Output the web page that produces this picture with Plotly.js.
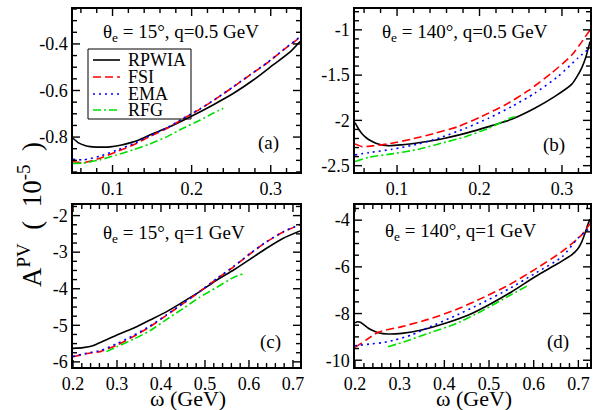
<!DOCTYPE html>
<html><head><meta charset="utf-8">
<script src="https://cdn.plot.ly/plotly-3.0.1.min.js"></script>
<style>html,body{margin:0;padding:0;background:#fff}#chart{width:593px;height:410px}</style>
</head><body><div id="chart"></div>
<script>
// ---------- Panel (a): theta_e = 15 deg, q = 0.5 GeV ----------
const a_rpwia_x = [0.05, 0.057, 0.065, 0.072, 0.085, 0.097, 0.11, 0.122, 0.135, 0.147, 0.173, 0.199, 0.227, 0.253, 0.278, 0.303, 0.325, 0.337];
const a_rpwia_y = [-0.805, -0.825, -0.836, -0.841, -0.843, -0.842, -0.835, -0.825, -0.81, -0.791, -0.755, -0.712, -0.662, -0.612, -0.555, -0.49, -0.433, -0.39];
const a_fsi_x = [0.05, 0.063, 0.084, 0.105, 0.126, 0.147, 0.169, 0.189, 0.211, 0.232, 0.253, 0.274, 0.295, 0.316, 0.337];
const a_fsi_y = [-0.906, -0.91, -0.891, -0.863, -0.834, -0.798, -0.762, -0.722, -0.679, -0.633, -0.584, -0.533, -0.483, -0.426, -0.372];
const a_ema_x = [0.05, 0.063, 0.084, 0.105, 0.126, 0.147, 0.169, 0.189, 0.211, 0.232, 0.253, 0.274, 0.295, 0.316, 0.337];
const a_ema_y = [-0.895, -0.898, -0.882, -0.857, -0.829, -0.795, -0.76, -0.72, -0.678, -0.632, -0.583, -0.532, -0.482, -0.425, -0.37];
const a_rfg_x = [0.05, 0.063, 0.084, 0.105, 0.126, 0.147, 0.169, 0.189, 0.211, 0.227, 0.24];
const a_rfg_y = [-0.913, -0.912, -0.898, -0.877, -0.855, -0.83, -0.798, -0.762, -0.727, -0.698, -0.676];

// ---------- Panel (b): theta_e = 140 deg, q = 0.5 GeV ----------
const b_rpwia_x = [0.049, 0.053, 0.057, 0.061, 0.065, 0.071, 0.077, 0.089, 0.105, 0.13, 0.158, 0.186, 0.211, 0.239, 0.267, 0.291, 0.312, 0.318, 0.324, 0.329, 0.334];
const b_rpwia_y = [-2.025, -2.09, -2.142, -2.18, -2.208, -2.238, -2.26, -2.279, -2.271, -2.241, -2.197, -2.135, -2.069, -1.987, -1.866, -1.738, -1.6, -1.52, -1.42, -1.3, -1.13];
const b_fsi_x = [0.049, 0.058, 0.07, 0.089, 0.117, 0.146, 0.174, 0.202, 0.231, 0.259, 0.287, 0.312, 0.334];
const b_fsi_y = [-2.26, -2.29, -2.282, -2.26, -2.208, -2.142, -2.069, -1.959, -1.83, -1.672, -1.48, -1.278, -1.002];
const b_ema_x = [0.049, 0.066, 0.094, 0.126, 0.154, 0.183, 0.211, 0.239, 0.267, 0.295, 0.319, 0.332];
const b_ema_y = [-2.381, -2.356, -2.319, -2.26, -2.186, -2.087, -1.976, -1.848, -1.70, -1.517, -1.314, -1.215];
const b_rfg_x = [0.049, 0.066, 0.094, 0.126, 0.154, 0.183, 0.211, 0.237, 0.243];
const b_rfg_y = [-2.455, -2.407, -2.37, -2.319, -2.252, -2.18, -2.087, -1.976, -1.96];

// ---------- Panel (c): theta_e = 15 deg, q = 1 GeV ----------
const c_rpwia_x = [0.2, 0.223, 0.245, 0.262, 0.3, 0.337, 0.375, 0.413, 0.451, 0.488, 0.527, 0.565, 0.602, 0.64, 0.678, 0.716];
const c_rpwia_y = [-5.63, -5.61, -5.56, -5.47, -5.265, -5.082, -4.855, -4.627, -4.354, -4.08, -3.761, -3.487, -3.195, -2.894, -2.62, -2.42];
const c_fsi_x = [0.2, 0.232, 0.262, 0.3, 0.337, 0.375, 0.413, 0.451, 0.488, 0.527, 0.565, 0.602, 0.64, 0.678, 0.716];
const c_fsi_y = [-5.86, -5.77, -5.72, -5.54, -5.31, -5.04, -4.72, -4.40, -4.08, -3.73, -3.40, -3.05, -2.72, -2.45, -2.25];
const c_ema_x = [0.2, 0.232, 0.262, 0.3, 0.337, 0.375, 0.413, 0.451, 0.488, 0.527, 0.565, 0.602, 0.64, 0.678, 0.716];
const c_ema_y = [-5.85, -5.76, -5.69, -5.50, -5.28, -5.02, -4.71, -4.39, -4.07, -3.72, -3.39, -3.04, -2.71, -2.44, -2.24];
const c_rfg_x = [0.276, 0.3, 0.337, 0.375, 0.413, 0.451, 0.488, 0.527, 0.565, 0.585];
const c_rfg_y = [-5.72, -5.585, -5.383, -5.147, -4.836, -4.535, -4.234, -3.96, -3.69, -3.6];

// ---------- Panel (d): theta_e = 140 deg, q = 1 GeV ----------
const d_rpwia_x = [0.2, 0.206, 0.213, 0.221, 0.23, 0.241, 0.252, 0.274, 0.305, 0.349, 0.402, 0.454, 0.499, 0.551, 0.603, 0.655, 0.685, 0.698, 0.707, 0.715, 0.721, 0.726];
const d_rpwia_y = [-8.40, -8.35, -8.38, -8.5, -8.63, -8.74, -8.82, -8.877, -8.848, -8.706, -8.419, -8.063, -7.634, -7.064, -6.422, -5.848, -5.49, -5.25, -4.95, -4.55, -4.2, -3.95];
const d_fsi_x = [0.2, 0.226, 0.252, 0.305, 0.364, 0.424, 0.483, 0.544, 0.603, 0.663, 0.708, 0.726];
const d_fsi_y = [-9.45, -9.12, -8.80, -8.56, -8.25, -7.85, -7.35, -6.78, -6.105, -5.35, -4.62, -4.15];
const d_ema_x = [0.2, 0.21, 0.236, 0.261, 0.29, 0.326, 0.364, 0.424, 0.483, 0.544, 0.603, 0.663, 0.7, 0.722];
const d_ema_y = [-9.38, -9.36, -9.30, -9.25, -9.13, -8.92, -8.6, -8.1, -7.56, -6.95, -6.28, -5.58, -4.75, -4.4];
const d_rfg_x = [0.274, 0.312, 0.364, 0.424, 0.483, 0.544, 0.587];
const d_rfg_y = [-9.42, -9.2, -8.85, -8.45, -7.9, -7.25, -6.8];

// ---------- Tick labels (as printed, plain hyphen for minus) ----------
const aYText = ['-0.8', '-0.6', '-0.4'];
const bYText = ['-2.5', '-2', '-1.5', '-1'];
const cYText = ['-6', '-5', '-4', '-3', '-2'];
const dYText = ['-10', '-8', '-6', '-4'];

const seriesNames = ['RPWIA', 'FSI', 'EMA', 'RFG'];
const panelTitles = ['θ<sub>e</sub> = 15°, q=0.5 GeV', 'θ<sub>e</sub> = 140°, q=0.5 GeV', 'θ<sub>e</sub> = 15°, q=1 GeV', 'θ<sub>e</sub> = 140°, q=1 GeV'];
const panelLetters = ['(a)', '(b)', '(c)', '(d)'];
const xTitleText = 'ω (GeV)';
const yTitleText = 'A<sup>PV</sup>  (  10<sup>-5</sup>  )';

const FONT = 'Liberation Serif, Times New Roman, serif';
const styles = [
  {color: '#000000', dash: 'solid'},
  {color: '#ff0000', dash: '8px,4px'},
  {color: '#0000ff', dash: '2px,4px'},
  {color: '#00e000', dash: '8px,3px,2px,3px'}
];

const panels = [
  {xa: 'x', ya: 'y', xr: [0.05, 0.337], yr: [-0.95, -0.25], xd: 0.1, xm: 0.02, yd: 0.2, ym: 0.05, yt: aYText,
   data: [[a_rpwia_x, a_rpwia_y], [a_fsi_x, a_fsi_y], [a_ema_x, a_ema_y], [a_rfg_x, a_rfg_y]]},
  {xa: 'x2', ya: 'y2', xr: [0.049, 0.334], yr: [-2.57, -0.77], xd: 0.1, xm: 0.02, yd: 0.5, ym: 0.1, yt: bYText,
   data: [[b_rpwia_x, b_rpwia_y], [b_fsi_x, b_fsi_y], [b_ema_x, b_ema_y], [b_rfg_x, b_rfg_y]]},
  {xa: 'x3', ya: 'y3', xr: [0.2, 0.716], yr: [-6.14, -1.71], xd: 0.1, xm: 0.02, yd: 1, ym: 0.25, yt: cYText,
   data: [[c_rpwia_x, c_rpwia_y], [c_fsi_x, c_fsi_y], [c_ema_x, c_ema_y], [c_rfg_x, c_rfg_y]]},
  {xa: 'x4', ya: 'y4', xr: [0.2, 0.726], yr: [-10.29, -3.35], xd: 0.1, xm: 0.02, yd: 2, ym: 0.5, yt: dYText,
   data: [[d_rpwia_x, d_rpwia_y], [d_fsi_x, d_fsi_y], [d_ema_x, d_ema_y], [d_rfg_x, d_rfg_y]]}
];

const W = 593, H = 410;
const px = v => v / W, py = v => 1 - v / H;
const xL = [px(73), px(300)], xR = [px(355), px(590)];
const yT = [py(172), py(9)], yB = [py(367), py(205)];
const doms = [[xL, yT], [xR, yT], [xL, yB], [xR, yB]];

// map Plotly's unicode minus onto the hyphen used in the original
function alias(texts) {
  const o = {};
  (texts || []).forEach(t => { o[t.replace('-', '\u2212')] = t; });
  return o;
}

function axis(range, domain, anchor, dtick, texts) {
  return {
    range: range, domain: domain, anchor: anchor,
    tickmode: 'linear', tick0: 0, dtick: dtick,
    labelalias: alias(texts), ticks: '',
    showline: true, linecolor: '#000', linewidth: 1.6, mirror: true,
    showgrid: false, zeroline: false, fixedrange: true,
    tickfont: {family: FONT, size: 18, color: '#000'}
  };
}

function tickValues(rng, step) {
  const out = [];
  const k0 = Math.ceil(rng[0] / step - 1e-6), k1 = Math.floor(rng[1] / step + 1e-6);
  for (let k = k0; k <= k1; k++) out.push(+(k * step).toFixed(6));
  return out;
}
function isMajor(v, step) { return Math.abs(v / step - Math.round(v / step)) < 1e-6; }
const TK = {major: 7, minor: 4};

const traces = [];
const layout = {
  width: W, height: H, margin: {l: 0, r: 0, t: 0, b: 0},
  paper_bgcolor: '#fff', plot_bgcolor: '#fff', showlegend: false,
  font: {family: FONT, color: '#000'},
  annotations: [], shapes: []
};

panels.forEach((p, i) => {
  const sfx = i === 0 ? '' : String(i + 1);
  const dx = doms[i][0], dy = doms[i][1];
  layout['xaxis' + sfx] = axis(p.xr, dx, p.ya, p.xd);
  layout['yaxis' + sfx] = axis(p.yr, dy, p.xa, p.yd, p.yt);

  // data curves
  p.data.forEach((xy, k) => {
    traces.push({
      x: xy[0], y: xy[1], type: 'scatter', mode: 'lines', name: seriesNames[k],
      xaxis: p.xa, yaxis: p.ya, showlegend: false, hoverinfo: 'skip',
      line: {color: styles[k].color, dash: styles[k].dash, width: 1.6, shape: 'spline', smoothing: 0.6}
    });
  });

  // inward tick marks on all four sides, drawn through the panel's own axes
  const pxPerX = (dx[1] - dx[0]) * W / (p.xr[1] - p.xr[0]);
  const pxPerY = (dy[1] - dy[0]) * H / (p.yr[1] - p.yr[0]);
  const tx = [], ty = [];
  tickValues(p.xr, p.xm).forEach(v => {
    const l = (isMajor(v, p.xd) ? TK.major : TK.minor) / pxPerY;
    tx.push(v, v, null, v, v, null);
    ty.push(p.yr[0], p.yr[0] + l, null, p.yr[1], p.yr[1] - l, null);
  });
  tickValues(p.yr, p.ym).forEach(v => {
    const l = (isMajor(v, p.yd) ? TK.major : TK.minor) / pxPerX;
    tx.push(p.xr[0], p.xr[0] + l, null, p.xr[1], p.xr[1] - l, null);
    ty.push(v, v, null, v, v, null);
  });
  traces.push({x: tx, y: ty, type: 'scatter', mode: 'lines', xaxis: p.xa, yaxis: p.ya, showlegend: false,
    hoverinfo: 'skip', connectgaps: false, line: {color: '#000', width: 1.4, shape: 'linear'}});
});

const titlePos = [[181, 33], [465, 33], [174, 234], [460, 232]];
const letterPos = [[268, 143], [554, 145], [270, 342], [558, 342]];
titlePos.forEach((p, i) => {
  layout.annotations.push({xref: 'paper', yref: 'paper', x: px(p[0]), y: py(p[1]), xanchor: 'center', yanchor: 'middle',
    text: panelTitles[i], showarrow: false, font: {family: FONT, size: 19, color: '#000'}});
  layout.annotations.push({xref: 'paper', yref: 'paper', x: px(letterPos[i][0]), y: py(letterPos[i][1]), xanchor: 'center', yanchor: 'middle',
    text: panelLetters[i], showarrow: false, font: {family: FONT, size: 19, color: '#000'}});
});

// x-axis titles under the bottom panels
[188, 474].forEach(cx => layout.annotations.push({xref: 'paper', yref: 'paper', x: px(cx), y: py(398), xanchor: 'center', yanchor: 'middle',
  text: xTitleText, showarrow: false, font: {family: FONT, size: 22, color: '#000'}}));

// y-axis title spanning both rows
layout.annotations.push({xref: 'paper', yref: 'paper', x: px(30), y: py(215), xanchor: 'center', yanchor: 'middle',
  text: yTitleText, textangle: -90, showarrow: false, font: {family: FONT, size: 27, color: '#000'}});

// legend box inside panel (a)
layout.shapes.push({type: 'rect', xref: 'paper', yref: 'paper', x0: px(88), x1: px(191), y0: py(119), y1: py(49),
  line: {color: '#000', width: 1}, fillcolor: 'rgba(255,255,255,0)', layer: 'above'});
const legRows = [60, 77, 94, 110];
legRows.forEach((r, i) => {
  layout.shapes.push({type: 'line', xref: 'paper', yref: 'paper', x0: px(93), x1: px(120), y0: py(r), y1: py(r),
    line: {color: styles[i].color, dash: styles[i].dash, width: 1.6}});
  layout.annotations.push({xref: 'paper', yref: 'paper', x: px(126), y: py(r), xanchor: 'left', yanchor: 'middle',
    text: seriesNames[i], showarrow: false, font: {family: FONT, size: 18, color: '#000'}});
});

Plotly.newPlot('chart', traces, layout, {staticPlot: true, displayModeBar: false});
</script></body></html>
